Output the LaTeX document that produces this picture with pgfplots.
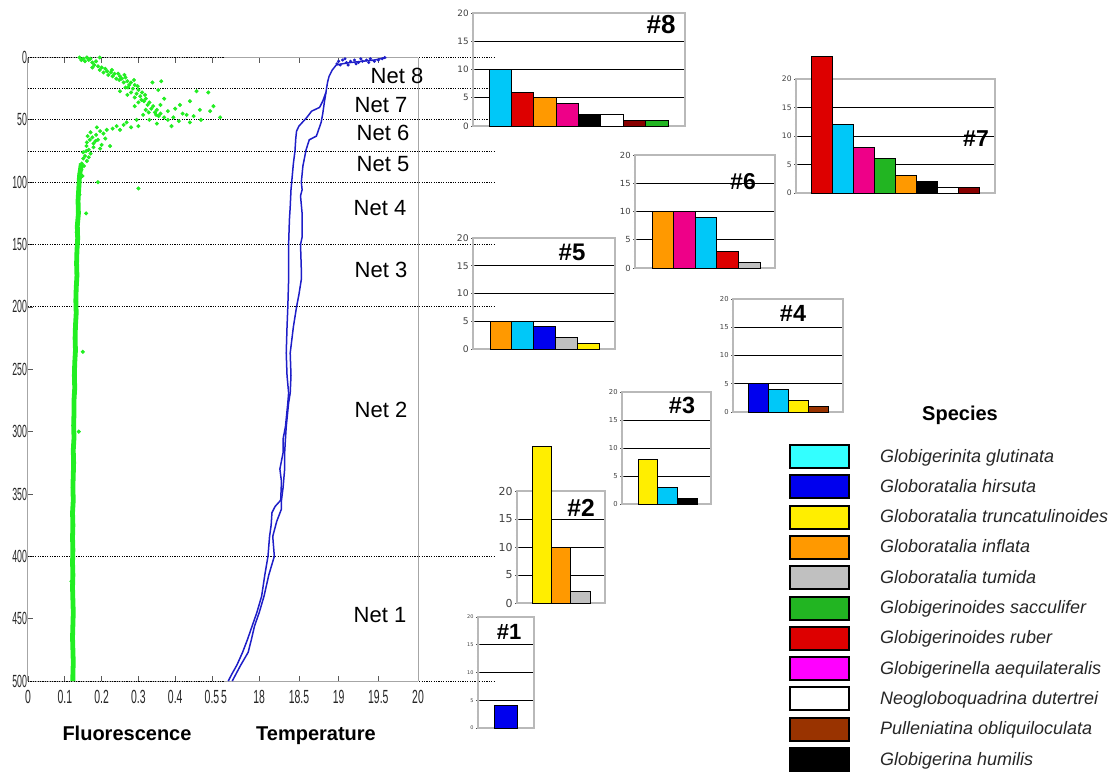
\documentclass[border=0pt]{standalone}
\usepackage{pgfplots}
\pgfplotsset{compat=1.18}
\usepackage{fontspec}
\setmainfont{Liberation Sans}
\newfontfamily\dejavu{DejaVu Sans}
\definecolor{cbar}{HTML}{00C8F8}
\definecolor{cleg}{HTML}{33FFFF}
\definecolor{cblue}{HTML}{0000EE}
\definecolor{cyel}{HTML}{FFEE00}
\definecolor{corange}{HTML}{FF9900}
\definecolor{cgray}{HTML}{C0C0C0}
\definecolor{cgreen}{HTML}{22B522}
\definecolor{cred}{HTML}{DD0000}
\definecolor{cpink}{HTML}{EE0088}
\definecolor{cmag}{HTML}{FF00FF}
\definecolor{cbrown}{HTML}{993300}
\definecolor{cmaroon}{HTML}{880000}
\definecolor{fgreen}{HTML}{22EE22}
\definecolor{tblue}{HTML}{1E1EC8}
\pgfplotsset{
 b/.style={fill=#1, draw=black, line width=0.45pt, bar shift=0pt},
 minibar/.style={
  scale only axis, anchor=south west, clip=false,
  ymin=0, ymax=20, ytick={0,5,10,15,20}, minor y tick num=4,
  xtick=\empty, ytick pos=left,
  ymajorgrids, major grid style={black, line width=0.45pt},
  axis line style={gray!55, line width=0.6pt},
  tick style={gray!60!black, line width=0.35pt},
  major tick length=2pt, minor tick length=1.2pt, tick align=center,
  ybar, bar width=1,
  /pgf/number format/assume math mode=true,
  yticklabel style={text=black!75, inner sep=1pt},
 },
}
\begin{document}
\begin{tikzpicture}
\path[use as bounding box] (0pt,0pt) rectangle (556pt,-386pt);

% ---------- Fluorescence profile ----------
\begin{axis}[scale only axis, anchor=south west, at={(14pt,-340.5pt)}, width=98pt, height=311.75pt,
  xmin=0, xmax=0.5326, ymin=0, ymax=500, y dir=reverse,
  axis x line*=box, axis y line*=left, axis line style={gray!70, line width=0.5pt},
  xtick={0,0.1,0.2,0.3,0.4,0.5}, xticklabels={0,0.1,0.2,0.3,0.4,0.5},
  extra x ticks={0.5326}, extra x tick labels={5}, extra x tick style={major tick length=0pt},
  ytick={0,50,...,500}, yticklabels={0,50,100,150,200,250,300,350,400,450,500},
  tick align=inside, major tick length=2.5pt, tick style={gray!70!black, line width=0.4pt},
  xticklabel style={font=\fontsize{9.5}{9.5}\selectfont, xscale=0.55, text=black!85, yshift=-1pt},
  yticklabel style={font=\fontsize{8.8}{8.8}\selectfont, xscale=0.5, text=black!85, inner sep=0.8pt},
  clip=false]
\pgfplotsinvokeforeach{0,25,50,75,100,150,200,400,500}{
  \draw[black, line width=0.5pt, dash pattern=on 0.6pt off 0.6pt] (axis cs:0,#1) -- ([xshift=233pt]axis cs:0,#1);
}
\addplot[fgreen, line width=2.4pt, no marks] coordinates {
(0.145,85)(0.140,95)(0.138,105)(0.136,115)(0.137,125)(0.134,135)(0.135,145)(0.133,155)(0.132,165)(0.133,175)
(0.131,185)(0.130,195)(0.131,205)(0.129,215)(0.128,225)(0.129,235)(0.127,245)(0.126,255)(0.127,265)(0.125,275)
(0.125,285)(0.124,295)(0.125,305)(0.123,315)(0.124,325)(0.123,335)(0.122,345)(0.123,355)(0.121,365)(0.122,375)
(0.121,385)(0.122,395)(0.121,405)(0.122,415)(0.121,425)(0.122,435)(0.123,445)(0.122,455)(0.121,465)(0.122,475)
(0.123,485)(0.122,495)(0.122,500)};
\addplot[only marks, mark=*, mark size=0.8pt, fgreen] coordinates {
(0.140,0)(0.150,1)(0.160,0)(0.170,1)(0.145,2)(0.155,3)(0.165,2)(0.175,4)(0.185,3)(0.195,0)
(0.180,6)(0.190,7)(0.200,8)(0.175,8)(0.210,9)(0.195,10)(0.215,11)(0.225,12)(0.205,12)(0.235,13)
(0.245,13)(0.230,15)(0.250,15)(0.255,17)(0.240,17)(0.265,16)(0.270,19)(0.260,20)(0.280,20)(0.275,22)
(0.290,22)(0.265,24)(0.285,25)(0.300,26)(0.280,28)(0.295,29)(0.310,28)(0.305,31)(0.290,32)(0.320,33)
(0.315,35)(0.300,36)(0.330,36)(0.325,38)(0.340,39)(0.335,41)(0.350,42)(0.345,44)(0.360,45)(0.355,47)
(0.370,48)(0.380,50)
(0.218,14)(0.228,10)(0.248,18)(0.262,14)(0.272,24)(0.288,18)(0.298,23)(0.308,34)(0.318,30)(0.328,44)
(0.338,20)(0.362,19)(0.354,26)(0.458,27)(0.490,28)(0.440,35)(0.413,38)(0.467,42)(0.504,39)(0.495,43)
(0.522,48)(0.431,46)(0.395,48)(0.348,46)(0.330,50)(0.313,46)(0.290,39)(0.370,33)(0.400,41)(0.420,45)
(0.450,47)(0.380,43)(0.360,38)(0.410,51)(0.470,50)(0.390,55)(0.350,53)(0.440,52)(0.320,42)(0.270,30)
(0.250,27)
(0.295,50)(0.268,52)(0.241,55)(0.214,58)(0.196,59)(0.187,56)(0.230,57)(0.260,54)(0.280,56)(0.300,55)
(0.205,61)(0.185,62)(0.175,64)(0.168,66)(0.190,66)(0.160,68)(0.178,69)(0.200,70)(0.159,71)(0.178,72)
(0.196,73)(0.223,71)(0.165,74)(0.150,76)(0.170,77)(0.155,79)(0.150,81)(0.160,83)(0.146,85)(0.152,87)
(0.145,90)(0.141,93)(0.148,95)(0.170,60)(0.162,63)(0.183,67)(0.210,65)(0.250,58)(0.158,75)(0.165,80)
(0.190,100)(0.300,105)(0.158,125)(0.149,236)(0.140,110)(0.132,140)(0.138,300)(0.118,420)};
\end{axis}

% ---------- Temperature profile ----------
\begin{axis}[scale only axis, anchor=south west, at={(112pt,-340.5pt)}, width=97pt, height=311.75pt,
  xmin=17.556, xmax=20, ymin=0, ymax=500, y dir=reverse,
  axis x line*=box, axis y line*=right, axis line style={gray!70, line width=0.5pt},
  ytick=\empty,
  xtick={18,18.5,19,19.5,20}, xticklabels={18,18.5,19,19.5,20},
  tick align=inside, major tick length=2.5pt, tick style={gray!70!black, line width=0.4pt},
  xticklabel style={font=\fontsize{9.5}{9.5}\selectfont, xscale=0.55, text=black!85, yshift=-1pt},
  clip=false]
\addplot[tblue, line width=0.75pt, no marks] coordinates {
(19.60,0)(19.45,2)(19.30,3)(19.15,4)(19.05,5)(18.97,6)(18.92,10)(18.88,15)(18.86,20)(18.84,28)
(18.80,35)(18.76,40)(18.66,43)(18.60,48)(18.50,55)(18.47,59)(18.46,65)(18.45,75)(18.43,85)(18.42,92)
(18.40,106)(18.39,120)(18.38,130)(18.37,150)(18.37,165)(18.37,178)(18.36,200)(18.35,216)(18.34,237)(18.35,255)
(18.37,269)(18.36,277)(18.33,296)(18.30,306)(18.30,317)(18.26,330)(18.28,340)(18.27,355)(18.20,360)(18.16,365)
(18.15,375)(18.13,384)(18.11,400)(18.07,415)(18.03,432)(17.97,445)(17.91,456)(17.85,467)(17.79,477)(17.72,487)
(17.65,495)(17.61,500)};
\addplot[tblue, line width=0.75pt, no marks] coordinates {
(18.84,28)(18.82,36)(18.80,45)(18.78,52)(18.72,63)(18.63,66)(18.59,74)(18.55,87)(18.53,100)(18.54,106)
(18.52,111)(18.54,125)(18.54,144)(18.52,150)(18.53,170)(18.53,178)(18.50,190)(18.47,200)(18.43,216)(18.39,237)
(18.40,255)(18.39,269)(18.37,277)(18.34,296)(18.33,306)(18.32,317)(18.32,330)(18.30,345)(18.28,355)(18.28,362)
(18.22,372)(18.17,384)(18.19,400)(18.12,415)(18.06,432)(18.00,445)(17.94,456)(17.90,467)(17.86,477)(17.76,488)
(17.66,500)};
\addplot[only marks, mark=*, mark size=0.55pt, tblue] coordinates {
(19.00,3)(19.05,2)(19.10,4)(19.15,3)(19.20,2)(19.25,4)(19.30,3)(19.35,2)(19.40,1)(19.45,3)
(19.50,2)(19.55,1)(19.58,0)(18.98,5)(19.02,6)(19.08,1)(19.22,5)(19.38,4)(19.12,6)(19.28,1)};
\end{axis}

% ---------- #8 ----------
\begin{axis}[minibar, at={(236.5pt,-63pt)}, width=106pt, height=56.5pt, xmin=-1.215, xmax=8.26,
  yticklabel style={font=\dejavu\fontsize{4.4}{4.4}\selectfont}]
\addplot[b=cbar] coordinates {(0,10)};
\addplot[b=cred] coordinates {(1,6)};
\addplot[b=corange] coordinates {(2,5)};
\addplot[b=cpink] coordinates {(3,4)};
\addplot[b=black] coordinates {(4,2)};
\addplot[b=white] coordinates {(5,2)};
\addplot[b=cmaroon] coordinates {(6,1)};
\addplot[b=cgreen] coordinates {(7,1)};
\end{axis}
% ---------- #7 ----------
\begin{axis}[minibar, at={(398pt,-96.5pt)}, width=99.5pt, height=57pt, xmin=-1.214, xmax=8.262,
  yticklabel style={font=\dejavu\fontsize{3.8}{3.8}\selectfont}]
\addplot[b=cred] coordinates {(0,24)};
\addplot[b=cbar] coordinates {(1,12)};
\addplot[b=cpink] coordinates {(2,8)};
\addplot[b=cgreen] coordinates {(3,6)};
\addplot[b=corange] coordinates {(4,3)};
\addplot[b=black] coordinates {(5,2)};
\addplot[b=white] coordinates {(6,1)};
\addplot[b=cmaroon] coordinates {(7,1)};
\end{axis}
% ---------- #6 ----------
\begin{axis}[minibar, at={(317.5pt,-134pt)}, width=70pt, height=56.5pt, xmin=-1.287, xmax=5.194,
  yticklabel style={font=\dejavu\fontsize{4.2}{4.2}\selectfont}]
\addplot[b=corange] coordinates {(0,10)};
\addplot[b=cpink] coordinates {(1,10)};
\addplot[b=cbar] coordinates {(2,9)};
\addplot[b=cred] coordinates {(3,3)};
\addplot[b=cgray] coordinates {(4,1)};
\end{axis}
% ---------- #5 ----------
\begin{axis}[minibar, at={(236.5pt,-174.5pt)}, width=71pt, height=55.5pt, xmin=-1.28, xmax=5.234,
  yticklabel style={font=\dejavu\fontsize{4.6}{4.6}\selectfont}]
\addplot[b=corange] coordinates {(0,5)};
\addplot[b=cbar] coordinates {(1,5)};
\addplot[b=cblue] coordinates {(2,4)};
\addplot[b=cgray] coordinates {(3,2)};
\addplot[b=cyel] coordinates {(4,1)};
\end{axis}
% ---------- #4 ----------
\begin{axis}[minibar, at={(366.5pt,-206pt)}, width=55pt, height=56.5pt, xmin=-1.25, xmax=4.25,
  yticklabel style={font=\dejavu\fontsize{3.4}{3.4}\selectfont}]
\addplot[b=cblue] coordinates {(0,5)};
\addplot[b=cbar] coordinates {(1,4)};
\addplot[b=cyel] coordinates {(2,2)};
\addplot[b=cbrown] coordinates {(3,1)};
\end{axis}
% ---------- #3 ----------
\begin{axis}[minibar, at={(311pt,-252pt)}, width=44.5pt, height=56pt, xmin=-1.313, xmax=3.21,
  yticklabel style={font=\dejavu\fontsize{3.4}{3.4}\selectfont}]
\addplot[b=cyel] coordinates {(0,8)};
\addplot[b=cbar] coordinates {(1,3)};
\addplot[b=black] coordinates {(2,1)};
\end{axis}
% ---------- #2 ----------
\begin{axis}[minibar, at={(258.5pt,-301.5pt)}, width=44pt, height=56pt, xmin=-1.276, xmax=3.276,
  yticklabel style={font=\dejavu\fontsize{5.5}{5.5}\selectfont}]
\addplot[b=cyel] coordinates {(0,28)};
\addplot[b=corange] coordinates {(1,10)};
\addplot[b=cgray] coordinates {(2,2)};
\end{axis}
% ---------- #1 ----------
\begin{axis}[minibar, at={(239pt,-364pt)}, width=28pt, height=55.5pt, xmin=-1.196, xmax=1.239,
  yticklabel style={font=\dejavu\fontsize{2.5}{2.5}\selectfont}]
\addplot[b=cblue] coordinates {(0,4)};
\end{axis}

\begin{scope}[x=0.5pt,y=-0.5pt]
% Net labels and axis titles
\begin{scope}[every node/.style={font=\fontsize{11}{11}\selectfont}]
\node at (397,76) {Net 8};
\node at (381,105) {Net 7};
\node at (383,133) {Net 6};
\node at (383,164) {Net 5};
\node at (380,208) {Net 4};
\node at (381,270) {Net 3};
\node at (381,410) {Net 2};
\node at (380,615) {Net 1};
\end{scope}
\node[anchor=base, font=\bfseries\fontsize{10}{10}\selectfont] at (127,740) {Fluorescence};
\node[anchor=base, font=\bfseries\fontsize{10}{10}\selectfont] at (316,740) {Temperature};
% chart titles
\node[font=\bfseries\fontsize{13}{13}\selectfont] at (661,25) {\#8};
\node[font=\bfseries\fontsize{11.5}{11.5}\selectfont] at (976,139) {\#7};
\node[font=\bfseries\fontsize{11.5}{11.5}\selectfont] at (743,182) {\#6};
\node[font=\bfseries\fontsize{12}{12}\selectfont] at (572,252) {\#5};
\node[font=\bfseries\fontsize{11.7}{11.7}\selectfont] at (793,313) {\#4};
\node[font=\bfseries\fontsize{11.7}{11.7}\selectfont] at (682,405) {\#3};
\node[font=\bfseries\fontsize{12.3}{12.3}\selectfont] at (581,508) {\#2};
\node[font=\bfseries\fontsize{11}{11}\selectfont] at (509,632) {\#1};
% legend
\node[anchor=base, font=\bfseries\fontsize{10}{10}\selectfont] at (960,420) {Species};
\foreach \c/\n [count=\i from 0] in {cleg/Globigerinita glutinata, cblue/Globoratalia hirsuta,
  cyel/Globoratalia truncatulinoides, corange/Globoratalia inflata, cgray/Globoratalia tumida,
  cgreen/Globigerinoides sacculifer, cred/Globigerinoides ruber, cmag/Globigerinella aequilateralis,
  white/Neogloboquadrina dutertrei, cbrown/Pulleniatina obliquiloculata, black/Globigerina humilis}{
  \draw[fill=\c, line width=1pt] (790,{445+30.3*\i}) rectangle (849,{468+30.3*\i});
  \node[anchor=base west, font=\itshape\fontsize{9}{9}\selectfont, text=black!85] at (873,{462+30.3*\i}) {\n};
}
\end{scope}
\end{tikzpicture}
\end{document}
